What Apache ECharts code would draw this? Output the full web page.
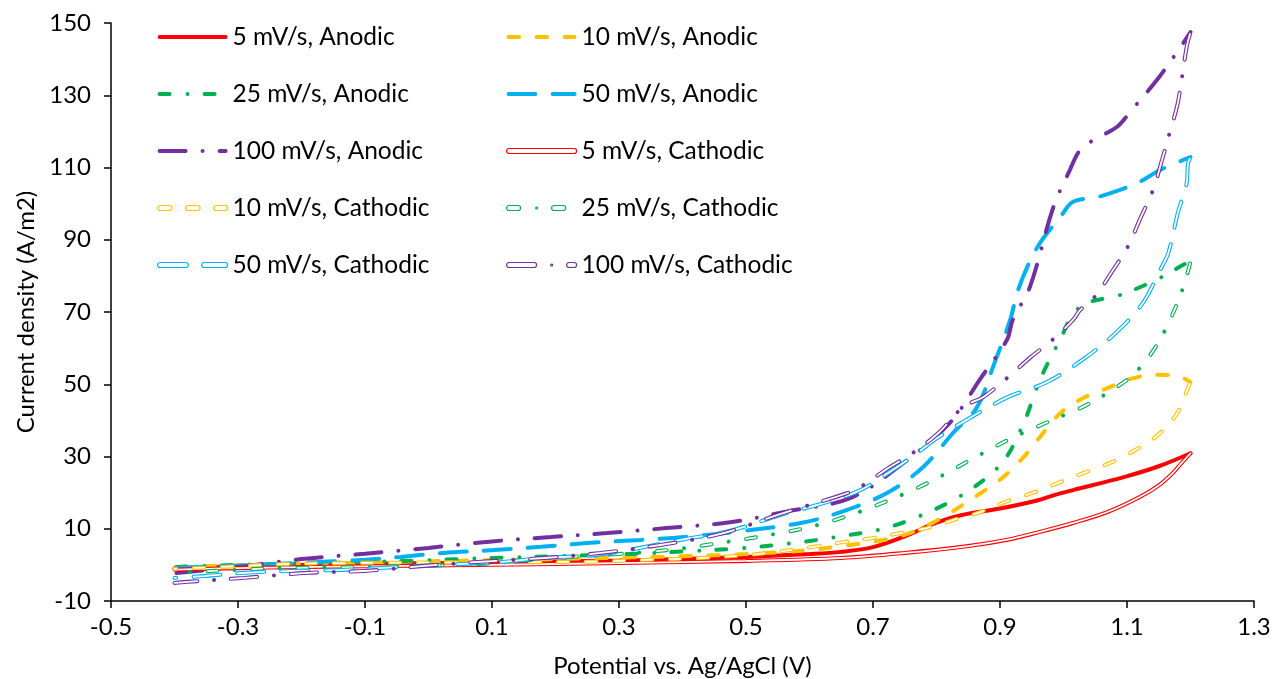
<!DOCTYPE html>
<html><head><meta charset="utf-8">
<script src="https://cdn.jsdelivr.net/npm/echarts@6/dist/echarts.min.js"></script>
<style>html,body{margin:0;padding:0;background:#fff}#chart{width:1274px;height:679px}</style>
</head><body><div id="chart"></div>
<script>
// ---- data: [potential (V), current density (A/m2)] ----
const an5 = [[-0.4,-0.9],[-0.3,-0.4],[-0.2,0.0],[-0.1,0.3],[0.0,0.5],[0.1,0.6],[0.2,0.9],[0.3,1.2],[0.4,1.6],[0.5,2.2],[0.6,3.0],[0.65,3.6],[0.7,4.9],[0.75,7.9],[0.8,11.7],[0.84,13.8],[0.9,15.6],[0.96,17.9],[0.985,19.3],[1.015,20.7],[1.095,24.3],[1.15,27.3],[1.2,30.9]];
const an10 = [[-0.4,-0.6],[-0.3,-0.1],[-0.2,0.3],[-0.1,0.6],[0.0,1.0],[0.1,1.3],[0.2,1.6],[0.3,2.0],[0.4,2.4],[0.5,3.0],[0.6,4.1],[0.65,5.2],[0.7,6.4],[0.75,8.3],[0.8,12.2],[0.87,19.9],[0.905,24.3],[0.936,29.6],[0.963,35.4],[0.995,42.0],[1.031,46.2],[1.07,49.0],[1.11,51.7],[1.15,52.6],[1.18,52.3],[1.2,50.6]];
const an25 = [[-0.4,-0.6],[-0.3,0.0],[-0.2,0.4],[-0.1,0.8],[0.0,1.3],[0.1,1.9],[0.2,2.4],[0.3,2.9],[0.4,3.7],[0.5,4.7],[0.586,6.3],[0.653,8.0],[0.722,10.3],[0.785,14.4],[0.848,20.2],[0.903,28.2],[0.936,38.7],[0.963,51.2],[0.992,61.4],[1.026,71.4],[1.089,74.7],[1.125,77.2],[1.155,79.7],[1.188,83.0],[1.2,84.0]];
const an50 = [[-0.4,-0.8],[-0.3,-0.2],[-0.2,0.6],[-0.1,1.4],[-0.044,2.2],[0.024,3.3],[0.103,4.1],[0.177,5.0],[0.255,6.1],[0.334,6.9],[0.402,7.7],[0.48,9.1],[0.586,11.6],[0.649,14.6],[0.722,19.9],[0.779,27.1],[0.826,36.5],[0.864,43.7],[0.889,54.8],[0.916,67.8],[0.927,75.3],[0.943,82.5],[0.963,89.1],[0.995,96.3],[1.015,100.5],[1.053,101.8],[1.089,103.8],[1.12,106.0],[1.152,109.3],[1.2,112.9]];
const an100 = [[-0.4,-2.3],[-0.3,-0.6],[-0.2,1.6],[-0.1,3.1],[0.0,4.7],[0.1,6.5],[0.193,7.7],[0.281,8.8],[0.375,10.2],[0.475,11.8],[0.565,14.8],[0.664,18.5],[0.745,27.8],[0.821,39.3],[0.869,51.5],[0.911,62.3],[0.92,67.8],[0.947,76.9],[0.984,99.0],[1.01,109.3],[1.026,114.8],[1.05,117.9],[1.084,121.2],[1.105,125.4],[1.147,134.2],[1.179,142.0],[1.2,147.5]];
const ca5 = [[1.2,30.9],[1.185,28.0],[1.172,25.4],[1.15,22.0],[1.12,18.8],[1.07,14.7],[1.015,11.6],[0.96,9.0],[0.91,6.9],[0.85,5.2],[0.75,3.3],[0.65,1.9],[0.5,1.1],[0.3,0.5],[0.1,0.0],[-0.1,-0.4],[-0.2,-0.6],[-0.3,-0.9],[-0.4,-1.3]];
const ca10 = [[1.2,50.6],[1.196,49.0],[1.179,42.0],[1.149,36.0],[1.113,31.8],[1.073,28.2],[1.031,25.4],[0.992,22.7],[0.951,19.9],[0.908,17.4],[0.869,14.6],[0.826,12.4],[0.785,10.2],[0.743,8.8],[0.699,7.4],[0.653,6.3],[0.606,5.0],[0.518,3.0],[0.428,1.9],[0.34,1.4],[0.26,0.9],[0.166,0.8],[0.035,0.7],[-0.138,0.5],[-0.232,0.2],[-0.316,-0.5],[-0.4,-1.1]];
const ca25 = [[1.2,84.0],[1.198,82.5],[1.188,76.6],[1.176,71.1],[1.16,65.0],[1.144,60.0],[1.124,55.3],[1.1,51.2],[1.039,44.5],[0.976,39.6],[0.913,34.6],[0.853,29.0],[0.79,23.0],[0.727,18.0],[0.664,13.8],[0.601,10.5],[0.528,8.0],[0.46,6.1],[0.392,4.4],[0.323,3.3],[0.25,2.5],[0.181,1.7],[0.103,0.5],[-0.012,-0.3],[-0.1,-0.6],[-0.237,-0.9],[-0.306,-1.4],[-0.369,-1.9],[-0.4,-2.1]];
const ca50 = [[1.2,112.9],[1.196,111.0],[1.194,105.7],[1.18,97.4],[1.165,86.3],[1.152,81.6],[1.125,72.5],[1.084,64.5],[1.034,57.3],[0.974,50.6],[0.913,46.5],[0.853,40.7],[0.801,35.1],[0.77,31.0],[0.738,27.1],[0.68,20.7],[0.622,17.1],[0.554,13.8],[0.48,9.7],[0.397,6.9],[0.271,2.9],[0.181,1.9],[0.114,0.8],[0.046,0.2],[-0.048,-0.6],[-0.138,-1.4],[-0.217,-1.7],[-0.29,-2.2],[-0.354,-3.1],[-0.4,-3.6]];
const ca100 = [[1.2,147.5],[1.194,143.4],[1.18,127.9],[1.167,119.5],[1.155,112.0],[1.141,103.8],[1.12,95.5],[1.102,88.3],[1.078,81.6],[1.05,74.4],[1.026,70.5],[1.015,67.8],[0.984,62.5],[0.947,57.3],[0.913,52.0],[0.874,46.5],[0.842,43.7],[0.803,36.5],[0.763,31.0],[0.724,26.8],[0.685,22.1],[0.66,19.9],[0.549,13.8],[0.465,8.8],[0.365,5.5],[0.271,3.3],[0.181,1.9],[0.077,0.8],[-0.007,-0.3],[-0.102,-1.7],[-0.19,-2.2],[-0.29,-3.6],[-0.38,-4.7],[-0.4,-5.0]];

const rates = ['5', '10', '25', '50', '100'];
const anodicData = [an5, an10, an25, an50, an100];
const cathodicData = [ca5, ca10, ca25, ca50, ca100];
const anodicNames = rates.map(r => r + ' mV/s, Anodic');
const cathodicNames = rates.map(r => r + ' mV/s, Cathodic');

// ---- styles ----
const colors = ['#FF0000', '#FFC000', '#00B050', '#00B0F0', '#7030A0'];
const patterns = [null, [10.5, 17.5], [10, 18, 0.01, 17], [26.7, 17.3], [26, 17, 0.01, 17]];
const FONT = 'Lato';
const LW = 4, INNER = 1.8, OFF = -2;

function innerPattern(p) {
  if (!p) return 'solid';
  if (p.length === 4) return [p[0], p[1] + p[2] + p[3]];
  return p;
}
// legend sample drawn as capsules following the same dash pattern
function iconPath(p, W, H, dotR) {
  const cap = (a, b) => {
    const r = Math.min(H / 2, (b - a) / 2);
    return `M${a + r},0H${b - r}A${r},${r} 0 0 1 ${b - r},${H}H${a + r}A${r},${r} 0 0 1 ${a + r},0Z`;
  };
  let d = '';
  if (!p) d = cap(0, W);
  else {
    let pos = -OFF, i = 0;
    while (pos < W + 2) {
      const L = p[i % p.length];
      if (i % 2 === 0) {
        if (L < 1) { if (pos < W - 1) d += `M${pos - dotR},${H / 2}A${dotR},${dotR} 0 1 0 ${pos + dotR},${H / 2}A${dotR},${dotR} 0 1 0 ${pos - dotR},${H / 2}Z`; }
        else { const a = Math.max(0, pos - 2), b = Math.min(W, pos + L + 2); if (b - a > 2) d += cap(a, b); }
      }
      pos += L; i++;
    }
  }
  d += `M0,0L0,0M${W},${H}L${W},${H}`;
  return 'path://' + d;
}

const series = [];
anodicData.forEach((d, i) => {
  series.push({
    type: 'line', name: anodicNames[i], data: d, symbol: 'none', smooth: 0.35,
    lineStyle: { color: colors[i], width: LW, type: patterns[i] || 'solid', cap: 'round', dashOffset: OFF },
    itemStyle: { color: colors[i] }, emphasis: { disabled: true }
  });
});
cathodicData.forEach((d, i) => {
  series.push({
    type: 'line', name: cathodicNames[i], data: d, symbol: 'none', smooth: 0.35,
    lineStyle: { color: colors[i], width: LW, type: patterns[i] || 'solid', cap: 'round', dashOffset: OFF },
    itemStyle: { color: colors[i] }, emphasis: { disabled: true }
  });
  series.push({
    type: 'line', name: cathodicNames[i] + ' (inner)', data: d, symbol: 'none', smooth: 0.35, silent: true,
    lineStyle: { color: '#FFFFFF', width: INNER, type: innerPattern(patterns[i]), cap: 'round', dashOffset: OFF },
    itemStyle: { color: '#FFFFFF' }, emphasis: { disabled: true }
  });
});

const IW = 70, IH = 5;
function legendItem(idx, cath) {
  if (!cath) return {
    name: anodicNames[idx],
    icon: iconPath(patterns[idx], IW, 4, 2),
    itemStyle: { color: colors[idx], borderWidth: 0 }
  };
  return {
    name: cathodicNames[idx],
    icon: iconPath(patterns[idx], IW, IH, 1),
    itemStyle: { color: 'rgba(255,255,255,0)', borderColor: colors[idx], borderWidth: 1.2 }
  };
}
const legendBase = {
  orient: 'vertical', top: 23, padding: 0, itemWidth: IW, itemHeight: IH, itemGap: 29,
  selectedMode: false, symbolKeepAspect: true,
  textStyle: { fontFamily: FONT, fontSize: 24.5, color: '#000', lineHeight: 28 }
};

const chart = echarts.init(document.getElementById('chart'), null, { renderer: 'canvas' });
chart.setOption({
  animation: false,
  backgroundColor: '#fff',
  grid: { left: 111, right: 20, top: 23, bottom: 78, containLabel: false, outerBoundsMode: 'none' },
  legend: [
    Object.assign({}, legendBase, { left: 157, data: [legendItem(0, false), legendItem(2, false), legendItem(4, false), legendItem(1, true), legendItem(3, true)] }),
    Object.assign({}, legendBase, { left: 506, data: [legendItem(1, false), legendItem(3, false), legendItem(0, true), legendItem(2, true), legendItem(4, true)] })
  ],
  xAxis: {
    type: 'value', min: -0.5, max: 1.3, interval: 0.2,
    name: 'Potential vs. Ag/AgCl (V)', nameLocation: 'middle', nameGap: 53,
    nameTextStyle: { fontFamily: FONT, fontSize: 24, color: '#000' },
    axisLine: { show: true, onZero: false, lineStyle: { color: '#000', width: 1.5 } },
    axisTick: { show: true, length: 7, lineStyle: { color: '#000', width: 1.5 } },
    axisLabel: { fontFamily: FONT, fontSize: 24, color: '#000', margin: 14, formatter: v => v.toFixed(1) },
    splitLine: { show: false }
  },
  yAxis: {
    type: 'value', min: -10, max: 150, interval: 20,
    name: 'Current density (A/m2)', nameLocation: 'middle', nameGap: 72, nameRotate: 90,
    nameTextStyle: { fontFamily: FONT, fontSize: 24, color: '#000' },
    axisLine: { show: true, onZero: false, lineStyle: { color: '#000', width: 1.5 } },
    axisTick: { show: true, length: 7, lineStyle: { color: '#000', width: 1.5 } },
    axisLabel: { fontFamily: FONT, fontSize: 24, color: '#000', margin: 20, formatter: v => String(Math.round(v)) },
    splitLine: { show: false }
  },
  series: series
});
</script>
</body></html>
